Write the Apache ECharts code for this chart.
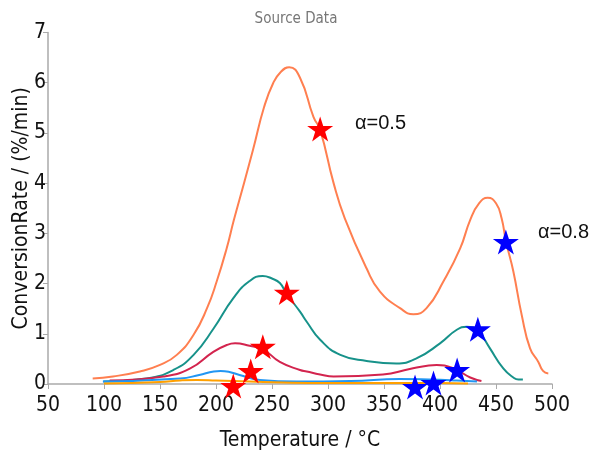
<!DOCTYPE html>
<html>
<head>
<meta charset="utf-8">
<script src="https://cdn.jsdelivr.net/npm/echarts@6/dist/echarts.min.js"></script>
<style>html,body{margin:0;padding:0;background:#fff}#c{width:592px;height:453px}</style>
</head>
<body>
<div id="c"></div>
<script>
// Temperature (°C), conversion rate (%/min)
var coralCurve = [[89.9,0.11],[108,0.15],[132,0.25],[150,0.38],[165,0.58],[180,0.98],[192,1.51],[200.6,2.04],[209.5,2.70],[216,3.27],[225,4.0],[233,4.66],[243,5.52],[251,5.99],[258,6.22],[265.4,6.31],[275,6.1],[287,5.32],[293,5.06],[305,4.0],[315,3.3],[334.5,2.30],[346.4,1.84],[364.3,1.51],[376.2,1.39],[388,1.51],[403,2.04],[418,2.70],[427,3.27],[435,3.6],[442.6,3.71],[450,3.6],[455,3.3],[459,2.83],[465.5,2.24],[473,1.37],[480.4,0.71],[487.8,0.44],[492,0.26],[496.7,0.21]];
var tealCurve = [[99.4,0.05],[138,0.11],[162,0.28],[180,0.58],[198,1.11],[215.5,1.71],[230,2.05],[241.7,2.15],[250,2.1],[257,2.01],[263,1.8],[275,1.44],[281,1.24],[293,0.88],[311,0.58],[334.5,0.46],[361,0.41],[379,0.51],[400,0.81],[415,1.08],[424,1.14],[430,1.12],[434,1.08],[444.6,0.71],[456.5,0.31],[465.5,0.13],[470,0.09],[474,0.09]];
var crimsonCurve = [[105,0.07],[153,0.15],[177,0.31],[197.6,0.64],[210,0.78],[217,0.81],[230,0.76],[242,0.69],[257,0.44],[275,0.28],[281,0.25],[293,0.19],[305,0.15],[349,0.19],[373,0.30],[390,0.37],[397,0.38],[412,0.31],[427,0.13],[437,0.06]];
var blueCurve = [[99,0.05],[168,0.11],[185,0.18],[198,0.25],[204,0.26],[212,0.24],[221,0.18],[239,0.08],[272,0.05],[320,0.06],[364,0.10],[390,0.09],[415,0.07],[433,0.05]];
var orangeCurve = [[100,0.01],[150,0.04],[168,0.07],[183,0.08],[200,0.07],[230,0.05],[260,0.03],[300,0.02],[400,0.02],[425,0.01]];
var alpha05Stars = [[293,5.08],[263.2,1.82],[241.8,0.74],[231,0.26],[215.4,-0.04]];
var alpha08Stars = [[458.8,2.83],[433.8,1.09],[415.3,0.28],[394.2,0.02],[377.7,-0.06]];
var xTicks = {min:50, max:500, interval:50};
var yTicks = {min:0, max:7, interval:1};
var labels = ['α=0.5','α=0.8'];

var star = 'path://M50,0 L61.8,36.2 L100,36.2 L69.1,58.8 L80.9,95.1 L50,72.7 L19.1,95.1 L30.9,58.8 L0,36.2 L38.2,36.2 Z';
var font = '"Liberation Sans Narrow", "DejaVu Sans Condensed", "Noto Sans", sans-serif';
function line(data, color){
  return {type:'line', data:data, smooth:0.5, symbol:'none', z:2,
    lineStyle:{color:color, width:2}};
}
var chart = echarts.init(document.getElementById('c'), null, {renderer:'canvas'});
chart.setOption({
  animation:false,
  title:{text:'Source Data', left:'center', top:7, textStyle:{fontFamily:font, fontSize:15, fontWeight:'normal', color:'#777'}},
  grid:{left:48, right:40, top:32.5, bottom:69, containLabel:false, outerBoundsMode:'none'},
  xAxis:{type:'value', min:xTicks.min, max:xTicks.max, interval:xTicks.interval,
    name:'Temperature / °C', nameLocation:'middle', nameGap:46, nameMoveOverlap:false,
    nameTextStyle:{fontFamily:font, fontSize:21, color:'#111'},
    axisLine:{lineStyle:{color:'#aaa', width:1.5}}, axisTick:{show:true, length:5, lineStyle:{color:'#aaa'}},
    axisLabel:{fontFamily:font, fontSize:21, color:'#111', margin:11}, splitLine:{show:false}},
  yAxis:{type:'value', min:yTicks.min, max:yTicks.max, interval:yTicks.interval,
    name:'ConversionRate / (%/min)', nameLocation:'middle', nameGap:16, nameMoveOverlap:false,
    nameTextStyle:{fontFamily:font, fontSize:21, color:'#111'},
    axisLine:{show:true, lineStyle:{color:'#aaa', width:1.5}}, axisTick:{show:true, length:5, lineStyle:{color:'#aaa'}},
    axisLabel:{fontFamily:font, fontSize:21, color:'#111', margin:2}, splitLine:{show:false}},
  series:[
    line(coralCurve,'#FF7F50'),
    line(tealCurve,'#17928A'),
    line(crimsonCurve,'#D3244E'),
    line(blueCurve,'#2196F3'),
    line(orangeCurve,'#FFA000'),
    {type:'scatter', data:alpha05Stars, symbol:star, symbolSize:[26,25], clip:false, z:5, itemStyle:{color:'#FF0000', opacity:1}},
    {type:'scatter', data:alpha08Stars, symbol:star, symbolSize:[26,25], clip:false, z:5, itemStyle:{color:'#0000FF', opacity:1}}
  ],
  graphic:[
    {type:'text', left:355, top:113, style:{text:labels[0], font:'20px "Liberation Sans"', fill:'#111'}},
    {type:'text', left:538, top:222, style:{text:labels[1], font:'20px "Liberation Sans"', fill:'#111'}}
  ]
});
</script>
</body>
</html>
